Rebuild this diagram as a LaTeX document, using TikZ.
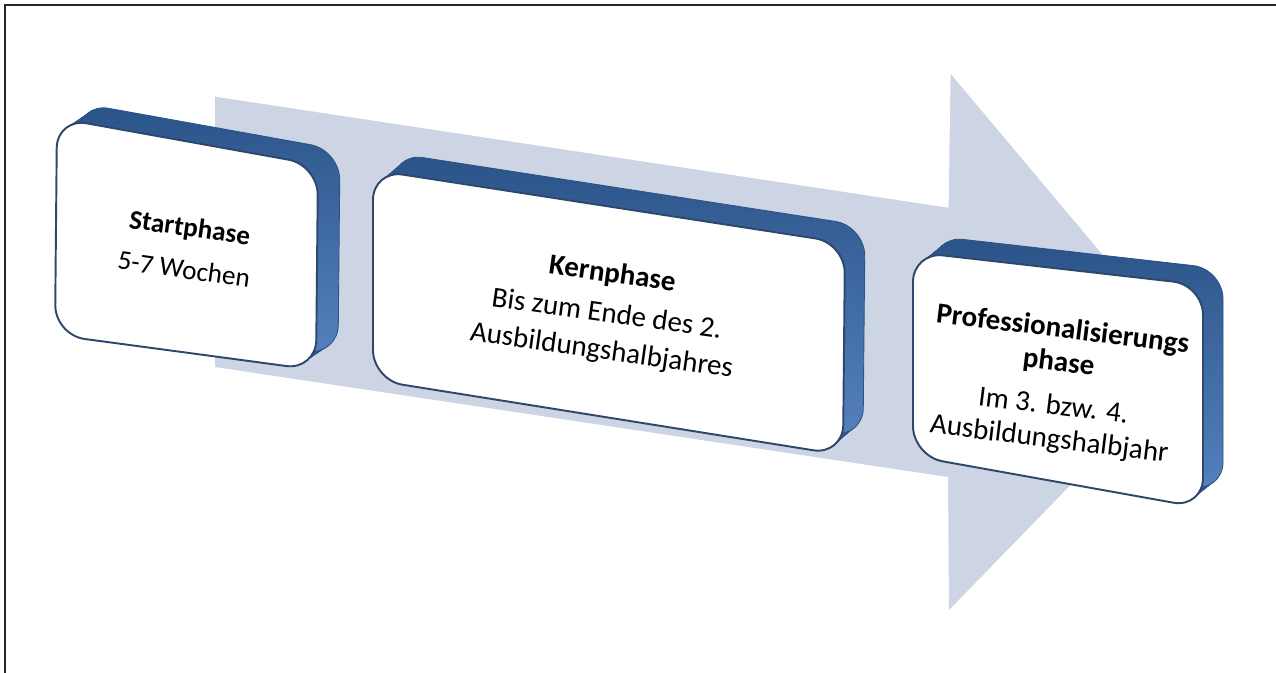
\documentclass[tikz,border=0pt]{standalone}
\usepackage{fontspec}
\setmainfont{Carlito}
\definecolor{arrowfill}{RGB}{205,212,228}
\definecolor{boxedge}{RGB}{46,72,108}
\definecolor{sidedark}{RGB}{42,84,136}
\definecolor{sidelight}{RGB}{86,128,188}
\begin{document}
\begin{tikzpicture}[x=0.02cm,y=-0.02cm,
        depth/.style={fill=sidedark,rounded corners=0.6cm},
        side/.style={top color=sidedark,bottom color=sidelight,draw=sidedark,line width=0.5pt,rounded corners=0.6cm},
        face/.style={fill=white,draw=boxedge,line width=1.1pt,rounded corners=0.6cm},
        phasetext/.style={align=center,rotate=-8,font=\fontsize{16.5}{21}\selectfont}]
        \useasboundingbox(0,0)rectangle(1276,673);
        \draw[line width=1.6pt,black!85](5,673)--(5,5)--(1276,5);

        \fill[arrowfill](215,96)--(948,207)--(950,72)--(1192,360)--(949,610)--(948,477)--(215,367)--cycle;
        \draw[white,line width=0.7pt](215,96)--(948,207)--(950,72)--(1192,360);

        \foreach \s in {9,...,1}
                \fill[depth,shift={({2.2*\s},{-1.5*\s})}](56,226)--(57,118)--(318,165)--(316,370)--(55,335)--cycle;
        \draw[side,shift={(22,-15)}](56,226)--(57,118)--(318,165)--(316,370)--(55,335)--cycle;
        \draw[face](56,226)--(57,118)--(318,165)--(316,370)--(55,335)--cycle;
        \node[phasetext,font=\fontsize{15.5}{21}\selectfont](start)at(187,248){\textbf{Startphase}\\[3pt]5-7 Wochen};

        \foreach \s in {9,...,1}
                \fill[depth,shift={({2.0*\s},{-1.7*\s})}](373,275)--(373,170)--(845,243)--(843,455)--(373,380)--cycle;
        \draw[side,shift={(20,-17)}](373,275)--(373,170)--(845,243)--(843,455)--(373,380)--cycle;
        \draw[face](373,275)--(373,170)--(845,243)--(843,455)--(373,380)--cycle;
        \node[phasetext](kern)at(607,313){\textbf{Kernphase}\\[2pt]Bis zum Ende des 2.\\Ausbildungshalbjahres};

        \foreach \s in {9,...,1}
                \fill[depth,shift={({2.0*\s},{-1.6*\s})}](913,354)--(913,252)--(1203,285)--(1203,508)--(913,456)--cycle;
        \draw[side,shift={(20,-16)}](913,354)--(913,252)--(1203,285)--(1203,508)--(913,456)--cycle;
        \draw[face](913,354)--(913,252)--(1203,285)--(1203,508)--(913,456)--cycle;
        \node[phasetext,rotate=1,font=\fontsize{16.5}{19}\selectfont](prof)at(1056,385){\textbf{Professionalisierungs}\\\textbf{phase}\\[6pt]Im 3. bzw. 4.\\Ausbildungshalbjahr};
\end{tikzpicture}
\end{document}
